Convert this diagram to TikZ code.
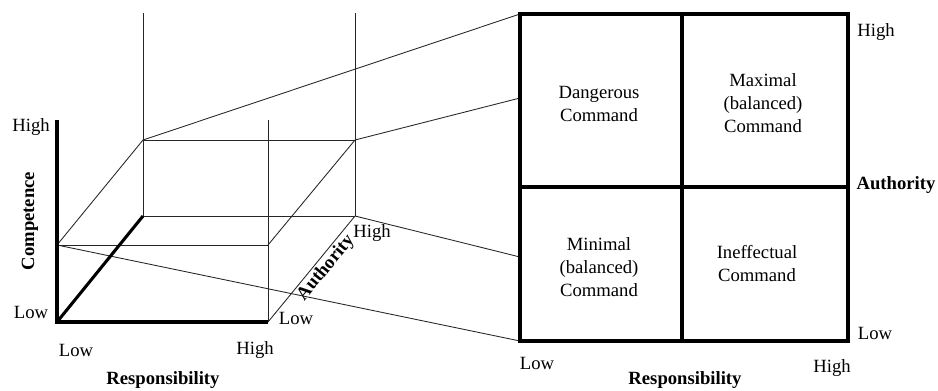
\documentclass[tikz,border=0pt]{standalone}
\usepackage{fontspec}
\setmainfont{Liberation Serif}
\begin{document}
\begin{tikzpicture}[x=0.75pt, y=-0.75pt,
    every node/.style={font=\fontsize{14}{17.25}\selectfont, inner sep=0pt},
    axis/.style={line width=2.3pt},
    edge/.style={line width=0.65pt, draw=black!85},
    title/.style={font=\fontsize{14}{17.25}\selectfont\bfseries},
    cell/.style={align=center}]
  \useasboundingbox (0,0) rectangle (938,390);

  % Cube corners
  \coordinate (n0) at (57,322);
  \coordinate (r1) at (268,322);
  \coordinate (a1) at (143,216);
  \coordinate (ra1) at (355,216);
  \coordinate (c1) at (57,120);
  \coordinate (rtop) at (268,120);
  \coordinate (atop) at (143,13);
  \coordinate (ratop) at (355,13);

  % Competence plane
  \coordinate (m0) at (57,245);
  \coordinate (mr) at (268,245);
  \coordinate (ma) at (143,140);
  \coordinate (mra) at (355,140);

  % Square corners
  \coordinate (q00) at (520,14);
  \coordinate (q10) at (848,14);
  \coordinate (q01) at (520,341);
  \coordinate (q11) at (848,341);
  \coordinate (qmt) at (682,14);
  \coordinate (qmb) at (682,341);
  \coordinate (qml) at (520,187);
  \coordinate (qmr) at (848,187);
  \coordinate (qe1) at (520,98);
  \coordinate (qe2) at (520,257);

  % Cube edges
  \draw[edge] (atop) -- (a1);
  \draw[edge] (ratop) -- (ra1);
  \draw[edge] (rtop) -- (r1);
  \draw[edge] (a1) -- (ra1);
  \draw[edge] (r1) -- (ra1);
  \draw[edge] (m0) -- (mr);
  \draw[edge] (m0) -- (ma);
  \draw[edge] (ma) -- (mra);
  \draw[edge] (mr) -- (mra);

  % Projection lines
  \draw[edge] (ma) -- (q00);
  \draw[edge] (mra) -- (qe1);
  \draw[edge] (ra1) -- (qe2);
  \draw[edge] (m0) -- (q01);

  % Axes
  \draw[axis] (c1) -- (n0) -- (r1);
  \draw[axis] (n0) -- (a1);

  % Square
  \draw[axis] (q00) rectangle (q11);
  \draw[axis] (qmt) -- (qmb);
  \draw[axis] (qml) -- (qmr);

  % Cube labels
  \node (lch) at (31,127) {High};
  \node (lcl) at (31,312) {Low};
  \node[title, rotate=90] (lc) at (30,221) {Competence};
  \node (lrl) at (76,350) {Low};
  \node (lrh) at (255,350) {High};
  \node[title] (lr) at (163,380) {Responsibility};
  \node (lal) at (296,318) {Low};
  \node (lah) at (372,233) {High};
  \node[title, rotate=50.6] (la) at (326,268) {Authority};

  % Square labels
  \node (sah) at (876,32) {High};
  \node[title] (sa) at (896,185) {Authority};
  \node (sal) at (875,333) {Low};
  \node (srl) at (537,363) {Low};
  \node (srh) at (832,368) {High};
  \node[title] (sr) at (685,380) {Responsibility};

  % Cells
  \node[cell] (dang) at (599,104) {Dangerous\\Command};
  \node[cell] (maxi) at (763,103) {Maximal\\(balanced)\\Command};
  \node[cell] (mini) at (599,267) {Minimal\\(balanced)\\Command};
  \node[cell] (inef) at (757,264) {Ineffectual\\Command};
\end{tikzpicture}
\end{document}
